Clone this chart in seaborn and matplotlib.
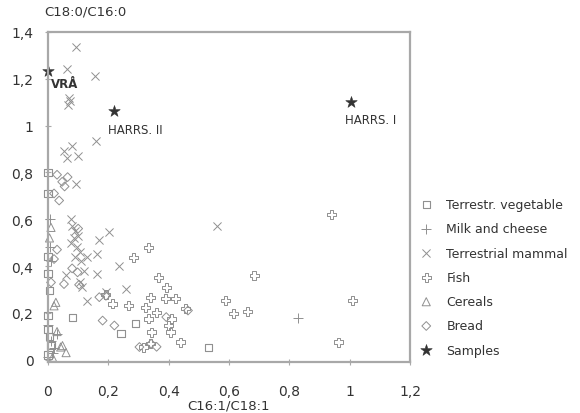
import numpy as np
import pandas as pd
import matplotlib
matplotlib.use("Agg")
import matplotlib.pyplot as plt
from matplotlib.path import Path
from matplotlib.ticker import FuncFormatter, MultipleLocator
import seaborn as sns

# ---- data ----
veg_x = [0.0, 0.0, 0.0, 0.005, 0.0, 0.08, 0.242, 0.289, 0.531, 0.0, 0.005, 0.01, 0.0, 0.0]
veg_y = [0.80, 0.71, 0.37, 0.295, 0.19, 0.18, 0.113, 0.153, 0.05, 0.13, 0.10, 0.06, 0.02, 0.44]

milk_x = [0.005, 0.01, 0.0, 0.01, 0.02, 0.0, 0.03, 0.83, 0.015, 0.005]
milk_y = [0.48, 0.42, 0.15, 0.08, 0.05, 0.01, 0.11, 0.18, 0.03, 0.60]

mammal_x = [0.093, 0.063, 0.157, 0.07, 0.065, 0.072, 0.16, 0.08, 0.053, 0.10, 0.063, 0.093,
            0.56, 0.075, 0.08, 0.09, 0.085, 0.10, 0.075, 0.095, 0.105, 0.09, 0.11, 0.12,
            0.13, 0.163, 0.17, 0.203, 0.237, 0.163, 0.113, 0.105, 0.13, 0.193, 0.26, 0.06]
mammal_y = [1.337, 1.24, 1.21, 1.12, 1.09, 1.105, 0.936, 0.915, 0.89, 0.87, 0.86, 0.75,
            0.57, 0.60, 0.57, 0.55, 0.52, 0.53, 0.50, 0.48, 0.46, 0.44, 0.42, 0.38,
            0.44, 0.45, 0.51, 0.545, 0.40, 0.366, 0.31, 0.33, 0.25, 0.29, 0.30, 0.36]

fish_x = [0.939, 0.683, 0.589, 0.614, 0.662, 1.009, 0.962, 0.334, 0.284, 0.367, 0.394,
          0.339, 0.389, 0.422, 0.456, 0.267, 0.322, 0.333, 0.40, 0.344, 0.406, 0.439,
          0.339, 0.317, 0.214, 0.192, 0.409, 0.36]
fish_y = [0.62, 0.36, 0.252, 0.196, 0.207, 0.252, 0.075, 0.48, 0.437, 0.352, 0.309,
          0.267, 0.26, 0.26, 0.217, 0.231, 0.224, 0.174, 0.146, 0.118, 0.118, 0.075,
          0.068, 0.054, 0.238, 0.28, 0.174, 0.20]

cereal_x = [0.01, 0.026, 0.042, 0.02, 0.048, 0.005, 0.06, 0.015, 0.03]
cereal_y = [0.565, 0.245, 0.054, 0.23, 0.06, 0.52, 0.03, 0.01, 0.12]

bread_x = [0.03, 0.047, 0.065, 0.02, 0.037, 0.055, 0.098, 0.103, 0.053, 0.181, 0.22,
           0.303, 0.342, 0.36, 0.392, 0.464, 0.17, 0.192, 0.03, 0.02, 0.10, 0.08, 0.01]
bread_y = [0.79, 0.76, 0.78, 0.71, 0.68, 0.74, 0.373, 0.32, 0.323, 0.167, 0.146,
           0.054, 0.068, 0.055, 0.182, 0.21, 0.267, 0.273, 0.47, 0.43, 0.56, 0.39, 0.33]

sample_names = ["VRÅ", "HARRS. II", "HARRS. I"]
sample_x = [0.0, 0.22, 1.005]
sample_y = [1.235, 1.064, 1.10]

groups = ["Terrestr. vegetable", "Milk and cheese", "Terrestrial mammal",
          "Fish", "Cereals", "Bread", "Samples"]

# outlined plus for fish
a = 0.36
fish_marker = Path([(-a, 1), (a, 1), (a, a), (1, a), (1, -a), (a, -a), (a, -1),
                    (-a, -1), (-a, -a), (-1, -a), (-1, a), (-a, a), (-a, 1)], closed=True)

gray = "#909090"
dark = "#333333"

sns.set_style("white")
plt.rcParams["font.family"] = ["DejaVu Sans"]

fig = plt.figure(figsize=(5.8, 4.14), dpi=100)
ax = fig.add_axes([48 / 580, 1 - 363 / 414, (410 - 48) / 580, (363 - 33) / 414])

xs = [veg_x, milk_x, mammal_x, fish_x, cereal_x, bread_x, sample_x]
ys = [veg_y, milk_y, mammal_y, fish_y, cereal_y, bread_y, sample_y]
styles = [
    dict(marker="s", s=26, facecolor="none", edgecolor=gray, linewidth=0.8),
    dict(marker="+", s=45, color=gray, linewidth=0.7),
    dict(marker="x", s=34, color=gray, linewidth=0.7),
    dict(marker=fish_marker, s=42, facecolor="none", edgecolor=gray, linewidth=0.7),
    dict(marker="^", s=34, facecolor="none", edgecolor=gray, linewidth=0.7),
    dict(marker="D", s=20, facecolor="none", edgecolor=gray, linewidth=0.7),
    dict(marker="*", s=75, color=dark, edgecolor=dark, linewidth=0.4),
]

for g, x, y, st in zip(groups, xs, ys, styles):
    df = pd.DataFrame({"x": x, "y": y})
    sns.scatterplot(data=df, x="x", y="y", ax=ax, label=g, legend=False, clip_on=False, **st)

# sample labels
ax.text(0.01, 1.18, sample_names[0], fontsize=8.5, fontweight="bold", color=dark, va="center")
ax.text(0.20, 0.985, sample_names[1], fontsize=8.5, color=dark, va="center")
ax.text(0.985, 1.025, sample_names[2], fontsize=8.5, color=dark, va="center")

ax.set_xlim(0, 1.2)
ax.set_ylim(-0.01, 1.4)
ax.xaxis.set_major_locator(MultipleLocator(0.2))
ax.yaxis.set_major_locator(MultipleLocator(0.2))
comma = FuncFormatter(lambda v, p: f"{v:.1f}".rstrip("0").rstrip(".").replace(".", ",") if abs(v) > 1e-9 else "0")
ax.xaxis.set_major_formatter(comma)
ax.yaxis.set_major_formatter(comma)
ax.tick_params(axis="both", direction="inout", length=5, width=0.8, color="#aaaaaa",
               labelsize=10, labelcolor=dark)
ax.tick_params(axis="x", pad=13, bottom=True)
ax.tick_params(axis="y", pad=8, left=True)
for sp in ax.spines.values():
    sp.set_color("#a8a8a8")
    sp.set_linewidth(1.6)

ax.set_xlabel("C16:1/C18:1", fontsize=9.5, color=dark, labelpad=1)
ax.set_ylabel("")
fig.text(44 / 580, 1 - 12 / 414, "C18:0/C16:0", fontsize=9.5, color=dark, va="center", ha="left")

handles, labels = ax.get_legend_handles_labels()
fig.legend(handles, labels, loc="upper left", bbox_to_anchor=(415 / 580, 1 - 194 / 414),
           frameon=False, fontsize=9, labelspacing=0.9, handletextpad=1.1,
           handlelength=1.0, borderaxespad=0, labelcolor=dark)

fig.savefig("out.png", dpi=100)
